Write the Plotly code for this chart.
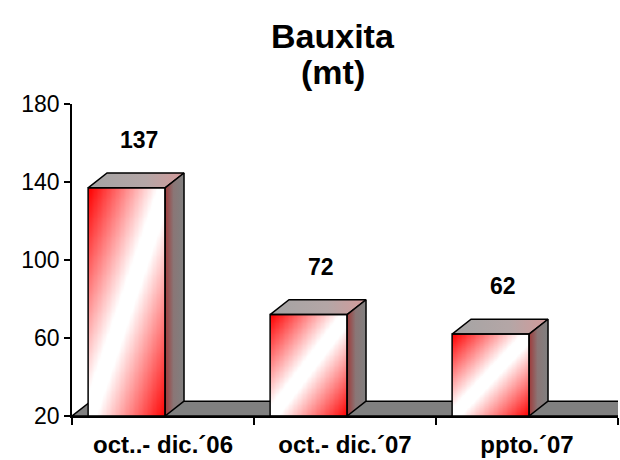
import numpy as np
import plotly.graph_objects as go

# ---- data ----
categories = ["oct..- dic.´06", "oct.- dic.´07", "ppto.´07"]
values = [137, 72, 62]
y_ticks = [20, 60, 100, 140, 180]
title_lines = ["Bauxita", "(mt)"]

# ---- style / geometry constants ----
FONT = "Liberation Sans, Arial, sans-serif"
Y_BASE = 20
Y_MAX = 180
CAT_OFFSET = -0.2      # front-face centre relative to category centre
BAR_W = 0.423          # front-face width (category units)
DEPTH_X = 0.104        # 3D depth, horizontal (category units)
DEPTH_Y = 7.6          # 3D depth, vertical (value units)
EDGE = dict(color="black", width=1.5)

front_scale = [[0, "#ff0000"], [0.45, "#ffffff"], [0.55, "#ffffff"], [1, "#ff0000"]]
top_scale = [[0, "#a4a4a4"], [0.6, "#b4a6a6"], [1, "#d49a9a"]]
side_scale = [[0, "#a03a3a"], [0.45, "#8a7676"], [1, "#808080"]]

fig = go.Figure()

n_cat = len(categories)
x_lo, x_hi = -0.5, n_cat - 0.5

for i, v in enumerate(values):
    x0 = i + CAT_OFFSET - BAR_W / 2
    x1 = x0 + BAR_W
    # front face: diagonal red-white-red gradient
    nx, ny = 60, 120
    xe = np.linspace(x0, x1, nx + 1)
    ye = np.linspace(Y_BASE, v, ny + 1)
    u = (np.arange(nx) + 0.5) / nx
    w = (np.arange(ny) + 0.5) / ny
    z = (u[None, :] + (1 - w[:, None])) / 2
    fig.add_trace(go.Heatmap(x=xe, y=ye, z=z, colorscale=front_scale, zmin=0, zmax=1,
                             zsmooth="best", showscale=False, hoverinfo="skip"))
    # top face
    fig.add_trace(go.Scatter(
        x=[x0, x1, x1 + DEPTH_X, x0 + DEPTH_X, x0],
        y=[v, v, v + DEPTH_Y, v + DEPTH_Y, v],
        mode="lines", fill="toself", line=EDGE,
        fillgradient=dict(type="horizontal", colorscale=top_scale),
        hoverinfo="skip", showlegend=False))
    # side face
    fig.add_trace(go.Scatter(
        x=[x1, x1 + DEPTH_X, x1 + DEPTH_X, x1, x1],
        y=[Y_BASE, Y_BASE + DEPTH_Y, v + DEPTH_Y, v, Y_BASE],
        mode="lines", fill="toself", line=EDGE,
        fillgradient=dict(type="horizontal", colorscale=side_scale),
        hoverinfo="skip", showlegend=False))
    # front outline
    fig.add_trace(go.Scatter(
        x=[x0, x1, x1, x0, x0], y=[Y_BASE, Y_BASE, v, v, Y_BASE],
        mode="lines", line=EDGE, hoverinfo="skip", showlegend=False))
    # value label
    fig.add_annotation(x=i + CAT_OFFSET + DEPTH_X / 2, y=v + DEPTH_Y, text=str(v),
                       showarrow=False, yanchor="bottom", yshift=18, xshift=3,
                       font=dict(family=FONT, size=23, color="black", weight="bold"))

# floor
floor_path = (f"M {x_lo},{Y_BASE} L {x_hi},{Y_BASE} L {x_hi + DEPTH_X},{Y_BASE + DEPTH_Y} "
              f"L {x_lo + DEPTH_X},{Y_BASE + DEPTH_Y} Z")
fig.add_shape(type="path", path=floor_path, xref="x", yref="y", layer="below",
              fillcolor="#808080", line=EDGE)

# title (two lines, tight spacing)
M_L, M_R, M_T, M_B = 72, 2, 104, 41
plot_h = 460 - M_T - M_B
plot_w = 620 - M_L - M_R
title_x = (333 - M_L) / plot_w
for line_text, py in zip(title_lines, [35, 72]):
    fig.add_annotation(text=line_text, xref="paper", yref="paper",
                       x=title_x, y=1 + (M_T - py) / plot_h,
                       xanchor="center", yanchor="middle", showarrow=False,
                       font=dict(family=FONT, size=34, color="black", weight="bold"))

fig.update_layout(
    width=620, height=460,
    margin=dict(l=M_L, r=M_R, t=M_T, b=M_B),
    paper_bgcolor="white", plot_bgcolor="white",
    showlegend=False,
    font=dict(family=FONT, color="black"),
)
fig.update_xaxes(range=[x_lo, x_hi], tickmode="array", tickvals=list(range(n_cat)),
                 ticktext=categories, ticks="", showgrid=False, zeroline=False,
                 showline=True, linecolor="black", linewidth=1.5,
                 tickfont=dict(family=FONT, size=24, color="black", weight="bold"),
                 ticklabelstandoff=6,
                 minor=dict(tick0=-0.5, dtick=1, ticks="outside", ticklen=7,
                            tickcolor="black", tickwidth=1.5, showgrid=False))
fig.update_yaxes(range=[Y_BASE, Y_MAX], tickmode="array", tickvals=y_ticks,
                 ticks="outside", ticklen=6, tickcolor="black", tickwidth=1.5,
                 showgrid=False, zeroline=False, showline=True, linecolor="black",
                 linewidth=1.5, tickfont=dict(family=FONT, size=23, color="black"))

fig.write_html("out.html", config={"displayModeBar": False},
               post_script="document.body.style.margin='0px';document.body.style.overflow='hidden';")
